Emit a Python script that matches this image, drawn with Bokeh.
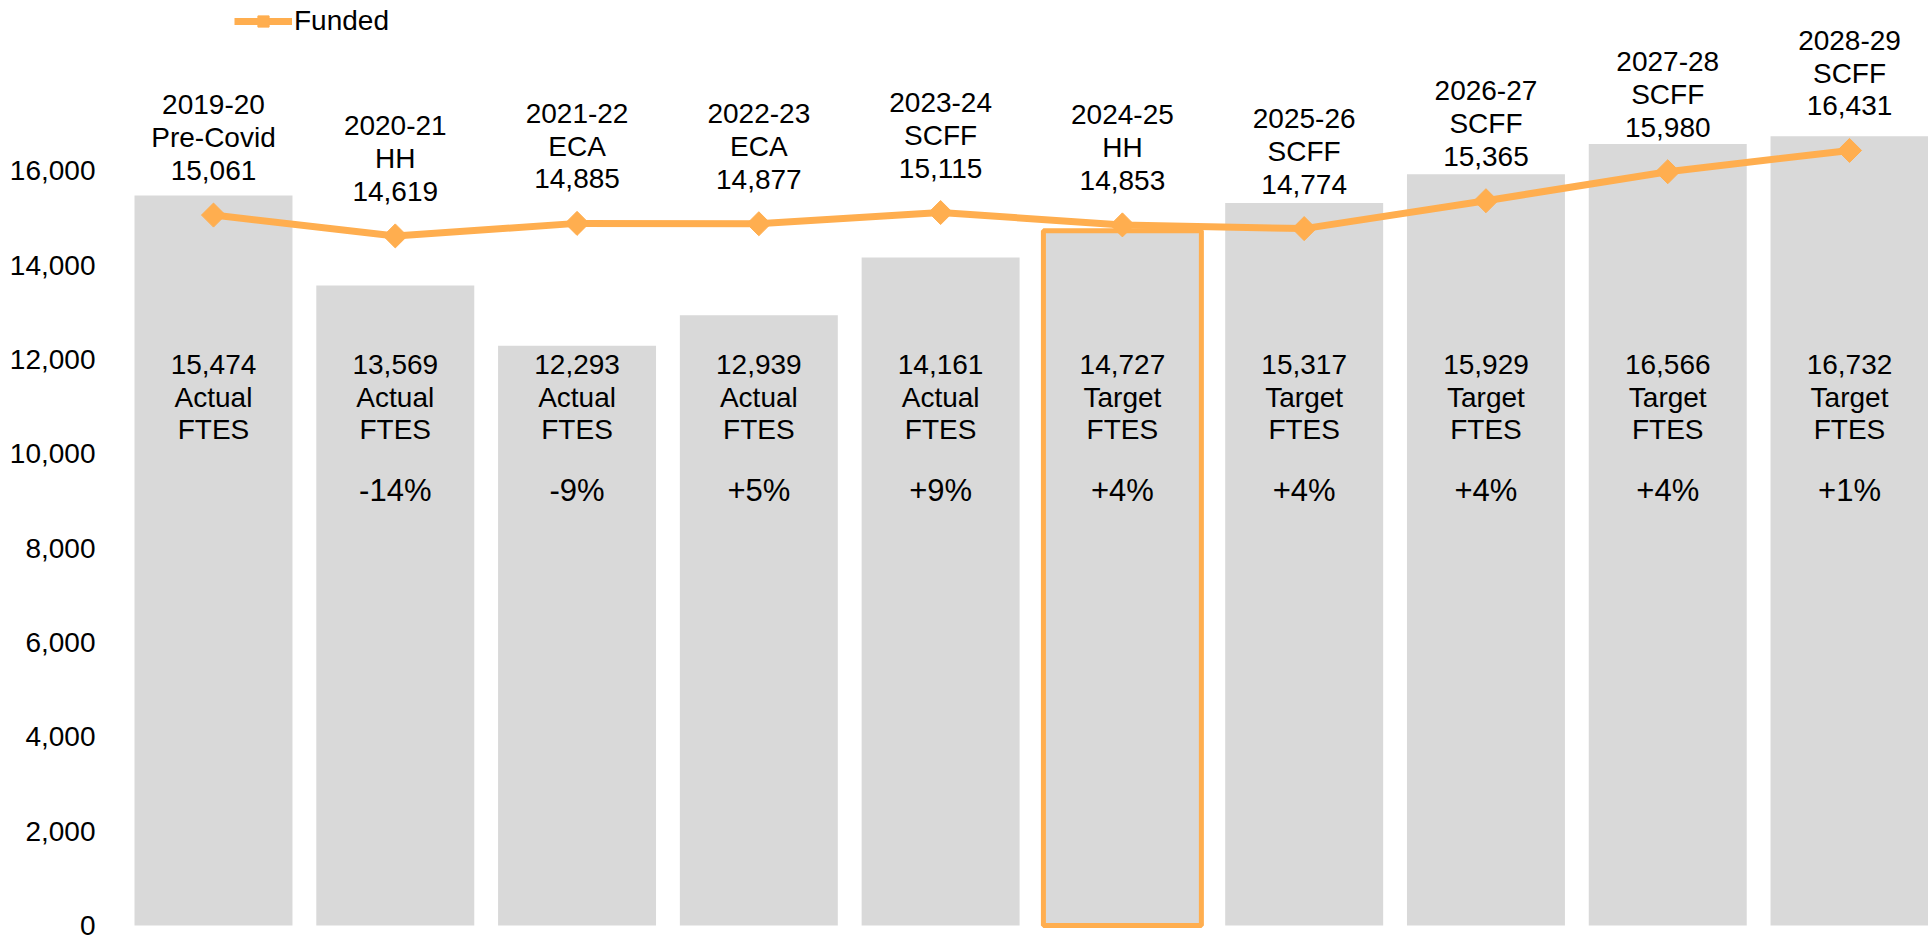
from math import pi
from bokeh.plotting import figure
from bokeh.models import (Range1d, FixedTicker, NumeralTickFormatter, Legend,
                          LegendItem, ColumnDataSource)
from bokeh.core.properties import value
from bokeh.embed import file_html
from bokeh.resources import INLINE

# ---------------- data ----------------
years = ["2019-20", "2020-21", "2021-22", "2022-23", "2023-24",
         "2024-25", "2025-26", "2026-27", "2027-28", "2028-29"]
funding_basis = ["Pre-Covid", "HH", "ECA", "ECA", "SCFF",
                 "HH", "SCFF", "SCFF", "SCFF", "SCFF"]
funded = [15061, 14619, 14885, 14877, 15115, 14853, 14774, 15365, 15980, 16431]
ftes = [15474, 13569, 12293, 12939, 14161, 14727, 15317, 15929, 16566, 16732]
ftes_kind = ["Actual", "Actual", "Actual", "Actual", "Actual",
             "Target", "Target", "Target", "Target", "Target"]
pct_change = ["", "-14%", "-9%", "+5%", "+9%", "+4%", "+4%", "+4%", "+4%", "+1%"]
y_ticks = [0, 2000, 4000, 6000, 8000, 10000, 12000, 14000, 16000]
highlight_year = "2024-25"

# ---------------- style ----------------
FONT = "Liberation Sans"
ORANGE = "#FFAE4F"
GREY = "#D9D9D9"
BAR_W = 0.869

idx = list(range(len(years)))
src = ColumnDataSource(dict(
    x=idx,
    funded=funded,
    ftes=ftes,
    top_label=[f"{y}\n{b}\n{f:,}" for y, b, f in zip(years, funding_basis, funded)],
    inner_label=[f"{v:,}\n{k}\nFTES" for v, k in zip(ftes, ftes_kind)],
    pct=pct_change,
))

p = figure(width=1928, height=942, output_backend="svg", toolbar_location=None,
           x_range=Range1d(-0.5116, 9.4345), y_range=Range1d(-127.2, 19610),
           x_axis_location=None,
           min_border_left=120, min_border_right=0, min_border_top=0,
           min_border_bottom=11)
p.outline_line_color = None
p.xgrid.visible = False
p.ygrid.visible = False
p.background_fill_color = "white"
p.border_fill_color = "white"

# bars
p.vbar(x="x", top="ftes", bottom=0, width=BAR_W, source=src,
       fill_color=GREY, line_color=None)

# highlighted bar outline
hi = [i for i, y in enumerate(years) if y == highlight_year]
p.vbar(x=hi, top=[ftes[i] for i in hi], bottom=0, width=BAR_W,
       fill_color=None, line_color=ORANGE, line_width=5)

# funded line
ln = p.line(x="x", y="funded", source=src, line_color=ORANGE, line_width=7)
mk = p.scatter(x="x", y="funded", source=src, marker="square", angle=pi / 4,
               size=17, fill_color=ORANGE, line_color=ORANGE)

# labels above line
p.text(x="x", y="funded", text="top_label", source=src,
       text_font=value(FONT), text_font_size="28px", text_color="#000000",
       text_align="center", text_baseline="bottom", y_offset=-29,
       text_line_height=1.06)

# labels inside bars
p.text(x="x", y=11200, text="inner_label", source=src,
       text_font=value(FONT), text_font_size="28px", text_color="#000000",
       text_align="center", text_baseline="middle", text_line_height=1.05)

# percent change
p.text(x="x", y=9220, text="pct", source=src,
       text_font=value(FONT), text_font_size="31px", text_color="#000000",
       text_align="center", text_baseline="middle")

# y axis
p.yaxis.ticker = FixedTicker(ticks=y_ticks)
p.yaxis.formatter = NumeralTickFormatter(format="0,0")
p.yaxis.major_label_text_font = FONT
p.yaxis.major_label_text_font_size = "28px"
p.yaxis.major_label_text_color = "#000000"
p.yaxis.axis_line_color = None
p.yaxis.major_tick_line_color = None
p.yaxis.minor_tick_line_color = None
p.yaxis.major_tick_out = 0
p.yaxis.major_tick_in = 0
p.yaxis.major_label_standoff = 25

# legend
legend = Legend(items=[LegendItem(label="Funded", renderers=[ln, mk])],
                location=(114, 894), orientation="horizontal")
legend.label_text_font = FONT
legend.label_text_font_size = "28px"
legend.label_text_color = "#000000"
legend.glyph_width = 58
legend.glyph_height = 28
legend.label_height = 28
legend.label_standoff = 2
legend.padding = 0
legend.margin = 0
legend.border_line_color = None
legend.background_fill_alpha = 0
p.add_layout(legend)

open("out.html", "w").write(file_html(p, INLINE))
